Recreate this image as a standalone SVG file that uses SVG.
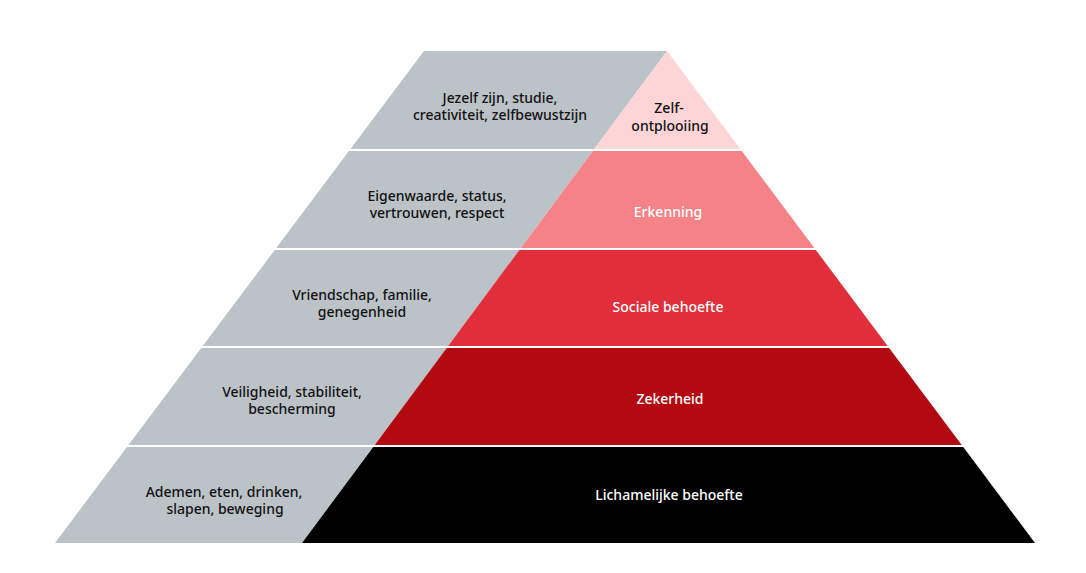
<svg xmlns="http://www.w3.org/2000/svg" width="1086" height="573" viewBox="0 0 1086 573">
<style>
  .t{font-family:"Noto Sans","Liberation Sans",sans-serif;font-size:14px;font-weight:500;text-anchor:middle}
  .d{fill:#111111}
  .w{fill:#ffffff}
  .gap{stroke:#ffffff;stroke-width:2}
</style>
<rect width="1086" height="573" fill="#ffffff"/>
<g id="grey-band">
  <polygon points="424,51 667,51 302,543 55,543" fill="#bcc3c8"/>
</g>
<g id="zelfontplooiing">
  <polygon points="667,51 741,150 593.6,150" fill="#fdd5d6"/>
  <text class="t d" x="669" y="112.5">Zelf-</text>
  <text class="t d" x="670" y="130.5">ontplooiing</text>
  <text class="t d" x="500" y="102.5">Jezelf zijn, studie,</text>
  <text class="t d" x="500" y="119.5">creativiteit, zelfbewustzijn</text>
</g>
<g id="erkenning">
  <polygon points="593.6,150 741,150 815.1,249 520.1,249" fill="#f58287"/>
  <text class="t w" x="668" y="217">Erkenning</text>
  <text class="t d" x="437" y="200.5">Eigenwaarde, status,</text>
  <text class="t d" x="437" y="217.5">vertrouwen, respect</text>
</g>
<g id="sociale-behoefte">
  <polygon points="520.1,249 815.1,249 888.4,347 447.4,347" fill="#e02f3a"/>
  <text class="t w" x="668" y="312">Sociale behoefte</text>
  <text class="t d" x="362" y="299.5">Vriendschap, familie,</text>
  <text class="t d" x="362" y="316.5">genegenheid</text>
</g>
<g id="zekerheid">
  <polygon points="447.4,347 888.4,347 962.5,446 374,446" fill="#b30a12"/>
  <text class="t w" x="670" y="404">Zekerheid</text>
  <text class="t d" x="292" y="396.5">Veiligheid, stabiliteit,</text>
  <text class="t d" x="292" y="413.5">bescherming</text>
</g>
<g id="lichamelijke-behoefte">
  <polygon points="374,446 962.5,446 1035,543 302,543" fill="#000000"/>
  <text class="t w" x="669" y="500">Lichamelijke behoefte</text>
  <text class="t d" x="224" y="496.5">Ademen, eten, drinken,</text>
  <text class="t d" x="225" y="513.5">slapen, beweging</text>
</g>
<g id="connectors">
  <line class="gap" x1="0" y1="150" x2="1086" y2="150"/>
  <line class="gap" x1="0" y1="249" x2="1086" y2="249"/>
  <line class="gap" x1="0" y1="347" x2="1086" y2="347"/>
  <line class="gap" x1="0" y1="446" x2="1086" y2="446"/>
</g>
</svg>
